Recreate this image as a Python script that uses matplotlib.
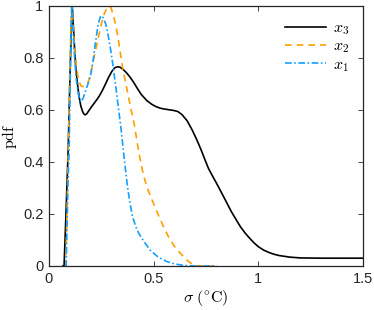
import numpy as np
import matplotlib
matplotlib.use("Agg")
import matplotlib.pyplot as plt

plt.rcParams['font.family'] = ['Liberation Sans', 'DejaVu Sans']
plt.rcParams['mathtext.fontset'] = 'cm'

# x3 (black, solid)
x3_sig = [0.067, 0.072, 0.080, 0.091, 0.100, 0.106, 0.111, 0.116, 0.122, 0.128, 0.136,
          0.144, 0.152, 0.160, 0.166, 0.172, 0.180, 0.191, 0.203, 0.215, 0.227, 0.239,
          0.255, 0.270, 0.285, 0.300, 0.314, 0.327, 0.340, 0.355, 0.372, 0.388, 0.405,
          0.420, 0.440, 0.467, 0.490, 0.510, 0.530, 0.547, 0.570, 0.595, 0.615, 0.635,
          0.659, 0.683, 0.707, 0.727, 0.746, 0.762, 0.780, 0.800, 0.817, 0.834, 0.852,
          0.870, 0.892, 0.914, 0.937, 0.960, 0.980, 1.000, 1.025, 1.050, 1.075, 1.100,
          1.150, 1.200, 1.300, 1.400, 1.500]
x3_pdf = [0.0, 0.0, 0.176, 0.433, 0.72, 0.90, 1.0, 0.93, 0.84, 0.763, 0.70,
          0.649, 0.615, 0.595, 0.585, 0.581, 0.585, 0.598, 0.612, 0.625, 0.638, 0.652,
          0.675, 0.70, 0.726, 0.748, 0.762, 0.766, 0.764, 0.755, 0.741, 0.725, 0.705,
          0.685, 0.660, 0.636, 0.622, 0.613, 0.607, 0.604, 0.601, 0.598, 0.594, 0.582,
          0.559, 0.524, 0.483, 0.445, 0.406, 0.374, 0.347, 0.318, 0.292, 0.266, 0.238,
          0.21, 0.180, 0.151, 0.126, 0.105, 0.088, 0.074, 0.061, 0.052, 0.045, 0.040,
          0.034, 0.031, 0.030, 0.030, 0.030]

# x2 (orange, dashed)
x2_sig = [0.075, 0.080, 0.090, 0.098, 0.104, 0.110, 0.115, 0.122, 0.130, 0.140, 0.152,
          0.162, 0.172, 0.183, 0.192, 0.200, 0.215, 0.227, 0.239, 0.250, 0.262, 0.275,
          0.287, 0.296, 0.305, 0.316, 0.327, 0.338, 0.351, 0.367, 0.383, 0.395, 0.407,
          0.422, 0.435, 0.446, 0.458, 0.470, 0.485, 0.499, 0.522, 0.547, 0.570, 0.595,
          0.620, 0.643, 0.665, 0.690, 0.720, 0.750, 0.800]
x2_pdf = [0.0, 0.0, 0.35, 0.70, 0.90, 1.0, 0.93, 0.84, 0.77, 0.72, 0.693,
          0.690, 0.693, 0.70, 0.718, 0.745, 0.802, 0.846, 0.891, 0.930, 0.965, 0.990,
          1.0, 0.993, 0.970, 0.935, 0.891, 0.833, 0.764, 0.700, 0.636, 0.590, 0.545,
          0.47, 0.412, 0.368, 0.330, 0.298, 0.268, 0.24, 0.196, 0.151, 0.113, 0.08,
          0.055, 0.036, 0.018, 0.004, 0.0, 0.0, 0.0]

# x1 (blue, dash-dot)
x1_sig = [0.078, 0.082, 0.090, 0.096, 0.102, 0.108, 0.113, 0.120, 0.130, 0.140, 0.152,
          0.163, 0.175, 0.188, 0.200, 0.212, 0.223, 0.235, 0.247, 0.259, 0.271, 0.283,
          0.295, 0.303, 0.311, 0.319, 0.327, 0.335, 0.343, 0.351, 0.363, 0.375, 0.387,
          0.399, 0.415, 0.431, 0.455, 0.483, 0.520, 0.563, 0.600, 0.643, 0.700, 0.800]
x1_pdf = [0.0, 0.0, 0.30, 0.433, 0.75, 1.0, 0.93, 0.83, 0.72, 0.66, 0.63,
          0.645, 0.674, 0.705, 0.738, 0.797, 0.866, 0.930, 0.962, 0.955, 0.930, 0.885,
          0.828, 0.785, 0.738, 0.690, 0.636, 0.585, 0.534, 0.475, 0.385, 0.304, 0.240,
          0.189, 0.150, 0.122, 0.092, 0.061, 0.035, 0.017, 0.008, 0.002, 0.0, 0.0]

xticks = [0, 0.5, 1, 1.5]
yticks = [0, 0.2, 0.4, 0.6, 0.8, 1]

fig = plt.figure(figsize=(3.74, 3.10), dpi=100)
ax = fig.add_axes([0.131, 0.142, 0.840, 0.839])

ax.plot(x3_sig, x3_pdf, color='black', lw=1.2, label=r'$x_3$')
ax.plot(x2_sig, x2_pdf, color='#FF9F00', lw=1.2, ls=(0, (4, 3)), label=r'$x_2$')
ax.plot(x1_sig, x1_pdf, color='#14A0FF', lw=1.2, ls=(0, (4, 1.5, 1, 1.5)), label=r'$x_1$')

ax.set_xlim(0, 1.5)
ax.set_ylim(0, 1)
ax.set_xticks(xticks)
ax.set_xticklabels(['0', '0.5', '1', '1.5'])
ax.set_yticks(yticks)
ax.set_yticklabels(['0', '0.2', '0.4', '0.6', '0.8', '1'])
ax.tick_params(direction='in', top=True, right=True, length=3.5, width=0.6,
               labelsize=10.5, colors='#262626', pad=4)
for s in ax.spines.values():
    s.set_linewidth(0.9)
    s.set_color('#262626')

ax.set_xlabel(r'$\sigma\ (^{\circ}\mathrm{C})$', fontsize=11.5, labelpad=2)
ax.set_ylabel(r'$\mathrm{pdf}$', fontsize=11.5, labelpad=3)

ax.legend(loc='upper right', frameon=False, fontsize=11.5, handlelength=2.6,
          handletextpad=0.4, labelspacing=0.1, borderaxespad=0.5)

fig.savefig('out.png', dpi=100)
